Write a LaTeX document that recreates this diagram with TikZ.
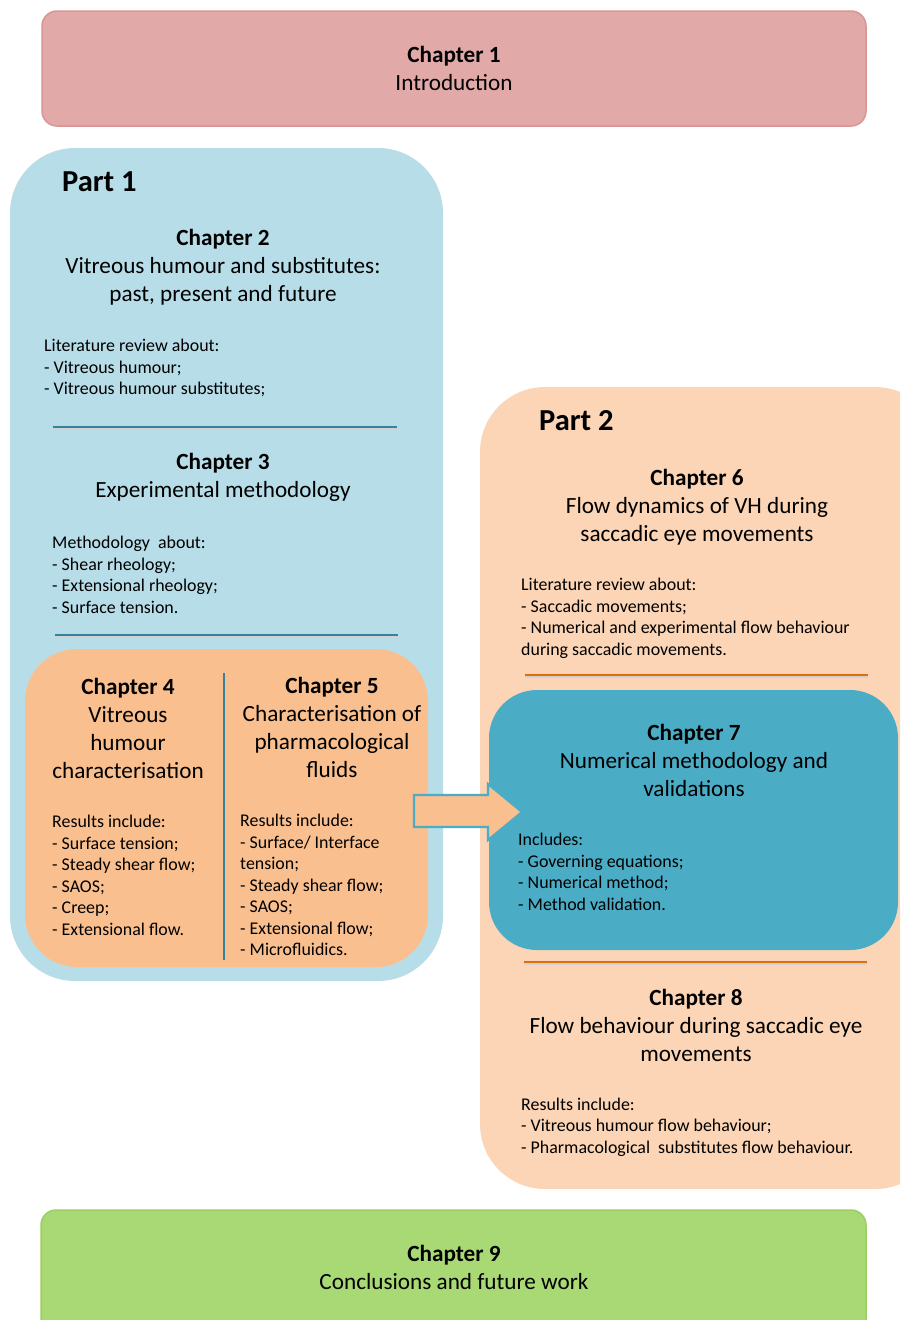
\documentclass[tikz,border=0pt]{standalone}
\usepackage{fontspec}
\setmainfont{Carlito}
\definecolor{chonefill}{HTML}{E1A9A8}
\definecolor{choneline}{HTML}{D99594}
\definecolor{partonefill}{HTML}{B7DDE8}
\definecolor{parttwofill}{HTML}{FBD5B5}
\definecolor{chfourfill}{HTML}{F9BF8F}
\definecolor{chsevenfill}{HTML}{4BACC6}
\definecolor{chninefill}{HTML}{A9D974}
\definecolor{chnineline}{HTML}{9CCF63}
\definecolor{blueline}{HTML}{31849B}
\definecolor{orangeline}{HTML}{E36C09}
\tikzset{
  boxbase/.style={draw=none, inner sep=0pt},
  chtitle/.style={font=\fontsize{23.2}{28}\selectfont, align=center, inner sep=0pt},
  bodytext/.style={font=\fontsize{17.9}{21.5}\selectfont, align=left, anchor=west, inner sep=0pt},
  parttitle/.style={font=\fontsize{30.5}{36}\selectfont\bfseries, anchor=west, inner sep=0pt},
  sepline/.style={line width=1.6pt},
  sepshadow/.style={line width=2pt, draw=black!18},
  blockarrow/.style={fill=chfourfill, draw=chsevenfill, line width=2.2pt, line join=miter}
}
\begin{document}
\begin{tikzpicture}[x=1pt,y=-1pt]
\useasboundingbox (0,0) rectangle (900,1320);
\clip (0,0) rectangle (900,1320);
% Chapter 1
\node[boxbase, draw=choneline, line width=1.5pt, fill=chonefill, rounded corners=15pt,
  minimum width=824pt, minimum height=115pt] (chone) at (454,68.5) {};
\node[chtitle] (chonetext) at (454,68) {\textbf{Chapter 1}\\Introduction};
% Part 1
\node[boxbase, fill=partonefill, rounded corners=65pt,
  minimum width=433pt, minimum height=833pt] (partone) at (226.5,564.5) {};
\node[parttitle] (partonelabel) at (62,182) {Part 1};
\node[chtitle] (chtwo) at (223,267) {\textbf{Chapter 2}\\Vitreous humour and substitutes:\\past, present and future};
\node[bodytext] (chtwobody) at (44,368) {Literature review about:\\- Vitreous humour;\\- Vitreous humour substitutes;};
\coordinate (sepaL) at (53,427); \coordinate (sepaR) at (397,427);
\draw[sepshadow] ([yshift=-2pt]sepaL) -- ([yshift=-2pt]sepaR);
\draw[sepline, draw=blueline] (sepaL) -- (sepaR);
\node[chtitle] (chthree) at (223,477) {\textbf{Chapter 3}\\Experimental methodology};
\node[bodytext] (chthreebody) at (52,575) {Methodology\ \ about:\\- Shear rheology;\\- Extensional rheology;\\- Surface tension.};
\coordinate (sepbL) at (55,635); \coordinate (sepbR) at (398,635);
\draw[sepshadow] ([yshift=-2pt]sepbL) -- ([yshift=-2pt]sepbR);
\draw[sepline, draw=blueline] (sepbL) -- (sepbR);
% Chapters 4 and 5
\node[boxbase, fill=chfourfill, rounded corners=52pt,
  minimum width=403pt, minimum height=318pt] (chfourfive) at (226.5,808) {};
\coordinate (vsepT) at (224,673); \coordinate (vsepB) at (224,960);
\draw[line width=1.6pt, draw=blueline] (vsepT) -- (vsepB);
\node[chtitle] (chfour) at (128,728) {\textbf{Chapter 4}\\Vitreous\\humour\\characterisation};
\node[bodytext] (chfourbody) at (52,875.5) {Results include:\\- Surface tension;\\- Steady shear flow;\\- SAOS;\\- Creep;\\- Extensional flow.};
\node[chtitle] (chfive) at (332,727.5) {\textbf{Chapter 5}\\Characterisation of\\pharmacological\\fluids};
\node[bodytext] (chfivebody) at (240,885) {Results include:\\- Surface/ Interface\\tension;\\- Steady shear flow;\\- SAOS;\\- Extensional flow;\\- Microfluidics.};
% Part 2
\node[boxbase, fill=parttwofill, rounded corners=65pt,
  minimum width=460pt, minimum height=802pt] (parttwo) at (710,788) {};
\node[parttitle] (parttwolabel) at (539,421) {Part 2};
\node[chtitle] (chsix) at (697,507) {\textbf{Chapter 6}\\Flow dynamics of VH during\\saccadic eye movements};
\node[bodytext] (chsixbody) at (521,618.5) {Literature review about:\\- Saccadic movements;\\- Numerical and experimental flow behaviour\\during saccadic movements.};
\coordinate (sepcL) at (525,675); \coordinate (sepcR) at (868,675);
\draw[sepshadow] ([yshift=-2pt]sepcL) -- ([yshift=-2pt]sepcR);
\draw[sepline, draw=orangeline] (sepcL) -- (sepcR);
% Chapter 7
\node[boxbase, fill=chsevenfill, rounded corners=48pt,
  minimum width=409pt, minimum height=260pt] (chseven) at (693.5,820) {};
\node[chtitle] (chseventext) at (694,760) {\textbf{Chapter 7}\\Numerical methodology and\\validations};
\node[bodytext] (chsevenbody) at (518,872) {Includes:\\- Governing equations;\\- Numerical method;\\- Method validation.};
\coordinate (sepdL) at (524,962); \coordinate (sepdR) at (867,962);
\draw[sepshadow] ([yshift=-2pt]sepdL) -- ([yshift=-2pt]sepdR);
\draw[sepline, draw=orangeline] (sepdL) -- (sepdR);
\node[chtitle] (cheight) at (696,1025.5) {\textbf{Chapter 8}\\Flow behaviour during saccadic eye\\movements};
\node[bodytext] (cheightbody) at (521,1127) {Results include:\\- Vitreous humour flow behaviour;\\- Pharmacological\ \ substitutes flow behaviour.};
% Arrow from chapters 4/5 to chapter 7
\coordinate (arrtail) at (414,811);
\coordinate (arrtip) at (522,812);
\draw[blockarrow] (arrtail |- 0,795) -- (488,795) -- (488,784) -- (arrtip) -- (488,840) -- (488,827) -- (arrtail |- 0,827) -- cycle;
% Chapter 9
\node[boxbase, draw=chnineline, line width=1.5pt, fill=chninefill, rounded corners=15pt,
  minimum width=825pt, minimum height=130pt] (chnine) at (453.5,1275) {};
\node[chtitle] (chninetext) at (454,1267.5) {\textbf{Chapter 9}\\Conclusions and future work};
\end{tikzpicture}
\end{document}
